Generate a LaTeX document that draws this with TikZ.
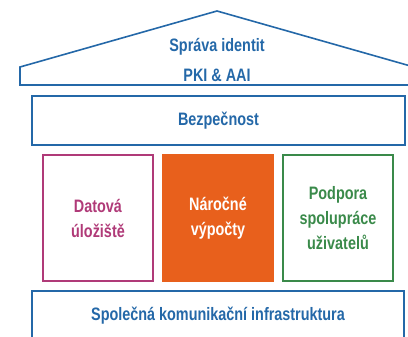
\documentclass[tikz,border=0pt]{standalone}
\usepackage{fontspec}
\setmainfont{Liberation Sans}[FakeStretch=0.8]
\usepackage{tikz}
\usetikzlibrary{positioning}

\definecolor{houseblue}{HTML}{2468A8}
\definecolor{storagepink}{HTML}{B03A78}
\definecolor{computeorange}{HTML}{E8601C}
\definecolor{supportgreen}{HTML}{3A8A4A}

\tikzset{
	layer/.style={draw=houseblue, line width=2pt, fill=white, anchor=north west,
		minimum width=373pt, text=houseblue},
	pillar/.style={line width=2pt, minimum width=110pt, minimum height=126pt},
	caption/.style={font=\bfseries\fontsize{18}{25}\selectfont, align=center}
}

\begin{document}
\begin{tikzpicture}[x=1pt, y=-1pt]

\clip (0,0) rectangle (408,337);
\useasboundingbox (0,0) rectangle (408,337);

% roof
\draw[houseblue, line width=1.6pt, line join=miter]
	(20,85) -- (20,67) -- (217,11) -- (414,67) -- (414,85) -- cycle;
\node[caption, text=houseblue, font=\bfseries\fontsize{18}{30}\selectfont] (identity) at (217,60)
	{Správa identit\\PKI \& AAI};

\node[
	layer,
	caption,
	minimum height=49pt
] (security) at (31,95) {Bezpečnost};

\node[
	pillar,
	caption,
	draw=storagepink,
	text=storagepink,
	anchor=north west
] (storage) at (42,154) {Datová\\úložiště};

\node[
	pillar,
	caption,
	draw=computeorange,
	fill=computeorange,
	text=white,
	right=8pt of storage
] (compute) {Náročné\\výpočty};

\node[
	pillar,
	caption,
	draw=supportgreen,
	text=supportgreen,
	right=8pt of compute
] (support) {Podpora\\spolupráce\\uživatelů};

\node[
	layer,
	caption,
	minimum width=372pt,
	minimum height=50pt
] (network) at (31,290) {Společná komunikační infrastruktura};

\end{tikzpicture}
\end{document}
